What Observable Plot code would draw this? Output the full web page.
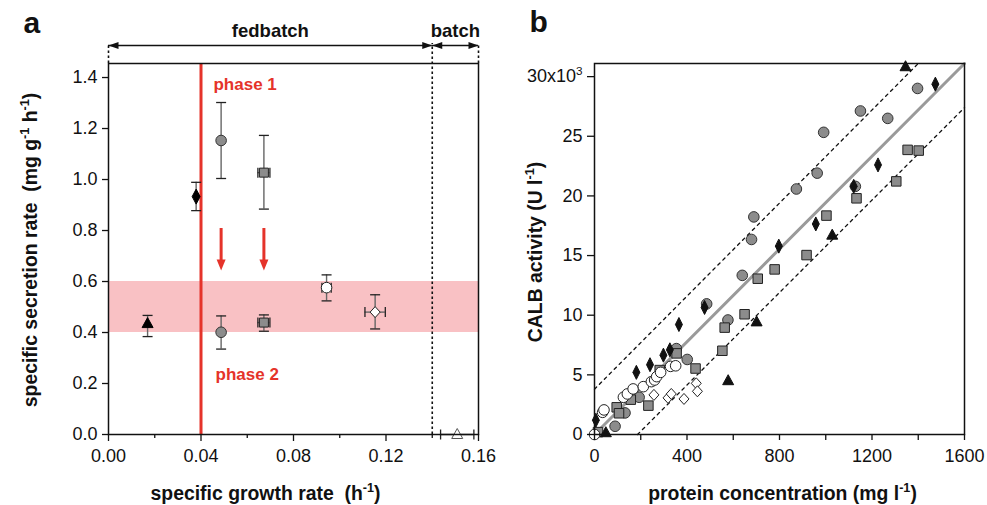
<!DOCTYPE html>
<html><head><meta charset="utf-8">
<script src="https://cdn.jsdelivr.net/npm/d3@7"></script>
<script src="https://cdn.jsdelivr.net/npm/@observablehq/plot@0.6"></script>
<style>
body{margin:0;background:#fff;}
#wrap{display:flex;width:987px;height:505px;overflow:hidden;}
</style></head><body><div id="wrap"></div>
<script>
// ---------- Panel a data ----------
const seriesA = ["tri", "dia", "circ", "sq", "circ", "sq", "ocirc", "odia", "otri"];
const muA     = [0.0169, 0.0379, 0.0487, 0.0672, 0.0487, 0.0672, 0.0943, 0.1153, 0.1508];
const qpA     = [0.435, 0.933, 1.153, 1.027, 0.401, 0.439, 0.576, 0.480, 0.000];
const qpLoA   = [0.384, 0.878, 1.004, 0.884, 0.335, 0.405, 0.524, 0.414, null];
const qpHiA   = [0.467, 0.989, 1.302, 1.173, 0.465, 0.469, 0.626, 0.548, null];
const muLoA   = [null, null, null, 0.0646, null, 0.0646, 0.0923, 0.1109, 0.1436];
const muHiA   = [null, null, null, 0.0698, null, 0.0698, 0.0963, 0.1197, 0.1580];
const bandA = [0.4, 0.6];
const phaseMu = 0.04;
const phaseBounds = [0, 0.14, 0.16];
const phaseNames = ["fedbatch", "batch"];
const dropX = [0.0487, 0.0672];
const dropFrom = 0.808, dropTo = 0.643;
const xTicksA = [0, 0.04, 0.08, 0.12, 0.16];
const xMinorA = [0.02, 0.06, 0.10, 0.14];
const yTicksA = [0, 0.2, 0.4, 0.6, 0.8, 1.0, 1.2, 1.4];

// ---------- Panel b data ----------
const grayCircX = [89, 132, 193, 354, 401, 485, 577, 639, 679, 689, 873, 963, 991, 1128, 1150, 1268, 1397];
const grayCircY = [690, 1810, 3120, 7200, 6290, 10950, 9600, 13340, 16350, 18240, 20580, 21910, 25330, 20800, 27120, 26500, 29010];
const graySqX = [15, 96, 106, 157, 233, 282, 355, 437, 553, 563, 649, 706, 779, 917, 1003, 1133, 1305, 1354, 1402];
const graySqY = [200, 2280, 1780, 2920, 2420, 5400, 6800, 5530, 7020, 8960, 10080, 13060, 13840, 15040, 18350, 19800, 21220, 23860, 23800];
const blkDiaX = [6, 181, 240, 298, 326, 365, 476, 797, 957, 1121, 1226, 1474];
const blkDiaY = [1200, 5210, 5850, 6650, 7100, 9220, 10650, 15790, 17650, 20800, 22600, 29370];
const blkTriX = [49, 578, 701, 1028, 1345];
const blkTriY = [150, 4510, 9440, 16710, 30830];
const openCircX = [0, 35, 41, 125, 142, 167, 211, 246, 260, 269, 286, 329, 351];
const openCircY = [0, 1860, 2060, 3120, 3400, 3820, 4010, 4430, 4570, 4850, 5210, 5710, 5760];
const openDiaX = [257, 318, 332, 387, 440, 445];
const openDiaY = [3320, 3070, 3400, 2980, 4290, 3620];
const fitX = [0, 1600], fitY = [0, 31100];
const upperX = [0, 1400], upperY = [3800, 31100];
const lowerX = [186, 1600], lowerY = [0, 27400];
const xTicksB = [0, 400, 800, 1200, 1600];
const xMinorB = [200, 600, 1000, 1400];
const yTicksB = [0, 5000, 10000, 15000, 20000, 25000, 30000];

// ---------- helpers ----------
const FONT = "'Liberation Sans', Arial, Helvetica, sans-serif";
const RED = "#e5332a";
const GRAY = "#8c8c8c";
const sym = {
  circle: R => ({draw(c){ c.moveTo(R,0); c.arc(0,0,R,0,2*Math.PI); }}),
  square: S => ({draw(c){ c.rect(-S/2,-S/2,S,S); }}),
  triangle: (W,H) => ({draw(c){ c.moveTo(0,-H*0.6); c.lineTo(W/2,H*0.4); c.lineTo(-W/2,H*0.4); c.closePath(); }}),
  diamond: (W,H) => ({draw(c){ c.moveTo(0,-H/2); c.lineTo(W/2,0); c.lineTo(0,H/2); c.lineTo(-W/2,0); c.closePath(); }}),
  hcap: W => ({draw(c){ c.moveTo(-W/2,0); c.lineTo(W/2,0); }}),
  vcap: H => ({draw(c){ c.moveTo(0,-H/2); c.lineTo(0,H/2); }}),
  head: (L,W) => ({draw(c){ c.moveTo(0,0); c.lineTo(-L,-W/2); c.lineTo(-L,W/2); c.closePath(); }})
};
const zip = (X, Y) => X.map((x, i) => ({x, y: Y[i]}));

function supify(svg) {
  svg.querySelectorAll("text").forEach(el => {
    const tsp = el.querySelectorAll("tspan");
    const targets = tsp.length ? Array.from(tsp) : [el];
    for (const t of targets) {
      const s = t.textContent;
      if (!s.includes("^{")) continue;
      const fs = parseFloat(getComputedStyle(t).fontSize) || 16;
      t.textContent = "";
      const parts = s.split(/(\^\{[^}]*\})/);
      let up = false;
      for (const p of parts) {
        if (!p) continue;
        const m = p.match(/^\^\{([^}]*)\}$/);
        const ts = document.createElementNS("http://www.w3.org/2000/svg", "tspan");
        if (m) {
          ts.textContent = m[1];
          ts.setAttribute("dy", (-0.42 * fs).toFixed(2));
          ts.setAttribute("font-size", (0.65 * fs).toFixed(2));
          up = true;
        } else {
          ts.textContent = p;
          if (up) { ts.setAttribute("dy", (0.42 * fs).toFixed(2)); up = false; }
        }
        t.appendChild(ts);
      }
    }
  });
}

// ---------- Panel a ----------
const dataA = seriesA.map((s, i) => ({s, mu: muA[i], q: qpA[i], qLo: qpLoA[i], qHi: qpHiA[i], muLo: muLoA[i], muHi: muHiA[i]}));
const yMaxA = 1.455;
const pxA = 371 / yMaxA;               // pixels per unit on the y scale
const yArrowA = yMaxA + 18 / pxA;      // arrow row above the frame
const yDotTopA = yMaxA + 20 / pxA;
const stylesA = {
  tri:  {symbol: sym.triangle(11, 10), fill: "black", stroke: "black"},
  dia:  {symbol: sym.diamond(8, 15), fill: "black", stroke: "black"},
  circ: {symbol: sym.circle(5.3), fill: GRAY, stroke: "#333"},
  sq:   {symbol: sym.square(9), fill: GRAY, stroke: "#222"},
  ocirc:{symbol: sym.circle(5.3), fill: "white", stroke: "#222"},
  odia: {symbol: sym.diamond(10, 11), fill: "white", stroke: "#222"},
  otri: {symbol: sym.triangle(11, 10), fill: "white", stroke: "#555"}
};
const phases = phaseNames.map((n, i) => ({n, x1: phaseBounds[i], x2: phaseBounds[i + 1], xm: (phaseBounds[i] + phaseBounds[i + 1]) / 2}));
const heads = [
  {x: phaseBounds[0], r: 180}, {x: phaseBounds[1], r: 0},
  {x: phaseBounds[1], r: 180}, {x: phaseBounds[2], r: 0}
];
const vErr = dataA.filter(d => d.qLo != null);
const hErr = dataA.filter(d => d.muLo != null);

const figA = Plot.plot({
  width: 500, height: 505,
  marginLeft: 108, marginRight: 22, marginTop: 63, marginBottom: 71,
  x: {domain: [0, 0.16], label: null},
  y: {domain: [0, yMaxA], label: null},
  style: {fontFamily: FONT, fontSize: "18px", color: "#111", background: "white", overflow: "visible"},
  marks: [
    Plot.rect([{y1: bandA[0], y2: bandA[1]}], {x1: () => 0, x2: () => 0.16, y1: "y1", y2: "y2", fill: "#f9c1c4"}),
    Plot.ruleX([phaseBounds[0], phaseBounds[2]], {x: d => d, y1: yMaxA, y2: yDotTopA, stroke: "#111", strokeWidth: 1.6, strokeDasharray: "2.5,2.5"}),
    Plot.ruleX([phaseBounds[1]], {x: d => d, y1: 0, y2: yDotTopA, stroke: "#111", strokeWidth: 1.6, strokeDasharray: "2.5,2.5"}),
    Plot.ruleY(phases, {x1: "x1", x2: "x2", y: () => yArrowA, stroke: "#111", strokeWidth: 1.5}),
    Plot.dot(heads, {x: "x", y: () => yArrowA, rotate: "r", symbol: sym.head(10, 7), fill: "#111", stroke: "none"}),
    Plot.text(phases, {x: "xm", frameAnchor: "top", lineAnchor: "middle", dy: -32, text: "n", fontWeight: "bold", fontSize: 18.5}),
    Plot.ruleX([phaseMu], {x: d => d, stroke: RED, strokeWidth: 3}),
    Plot.ruleX(dropX, {x: d => d, y1: () => dropFrom, y2: () => dropTo + 6 / pxA, stroke: RED, strokeWidth: 3}),
    Plot.dot(dropX, {x: d => d, y: () => dropTo, rotate: 90, symbol: sym.head(11, 9), fill: RED, stroke: "none"}),
    Plot.text(["phase 1"], {x: () => 0.0454, y: () => 1.373, textAnchor: "start", fill: RED, fontWeight: "bold", fontSize: 17}),
    Plot.text(["phase 2"], {x: () => 0.0463, y: () => 0.235, textAnchor: "start", fill: RED, fontWeight: "bold", fontSize: 17}),
    Plot.ruleX(vErr, {x: "mu", y1: "qLo", y2: "qHi", stroke: "#666", strokeWidth: 1.4}),
    Plot.ruleY(hErr, {y: "q", x1: "muLo", x2: "muHi", stroke: "#666", strokeWidth: 1.4}),
    Plot.dot(vErr, {x: "mu", y: "qLo", symbol: sym.hcap(10), stroke: "#222", strokeWidth: 1.3}),
    Plot.dot(vErr, {x: "mu", y: "qHi", symbol: sym.hcap(10), stroke: "#222", strokeWidth: 1.3}),
    Plot.dot(hErr, {x: "muLo", y: "q", symbol: sym.vcap(10), stroke: "#222", strokeWidth: 1.3}),
    Plot.dot(hErr, {x: "muHi", y: "q", symbol: sym.vcap(10), stroke: "#222", strokeWidth: 1.3}),
    ...Object.keys(stylesA).map(k => Plot.dot(dataA.filter(d => d.s === k), {x: "mu", y: "q", strokeWidth: 1, ...stylesA[k]})),
    Plot.frame({stroke: "#111", strokeWidth: 1.5}),
    Plot.axisX({ticks: xTicksA, tickFormat: d3.format(".2f"), tickSize: 7, tickPadding: 8, label: null, strokeWidth: 1.3}),
    Plot.axisX({ticks: xMinorA, tickFormat: () => "", tickSize: 4, label: null, strokeWidth: 1.3}),
    Plot.axisY({ticks: yTicksA, tickFormat: d3.format(".1f"), tickSize: 6, tickPadding: 5, label: null, strokeWidth: 1.3}),
    Plot.text(["specific growth rate  (h^{-1})"], {frameAnchor: "bottom", textAnchor: "middle", lineAnchor: "middle", dx: -28, dy: 59, fontWeight: "bold", fontSize: 19.4}),
    Plot.text(["specific secretion rate  (mg g^{-1} h^{-1})"], {frameAnchor: "left", textAnchor: "middle", lineAnchor: "middle", dx: -78, dy: 1, rotate: -90, fontWeight: "bold", fontSize: 19.4}),
    Plot.text(["a"], {frameAnchor: "top-left", textAnchor: "start", lineAnchor: "middle", dx: -85, dy: -40, fontWeight: "bold", fontSize: 30})
  ]
});

// ---------- Panel b ----------
const figB = Plot.plot({
  width: 487, height: 505,
  marginLeft: 94, marginRight: 23, marginTop: 63, marginBottom: 71,
  x: {domain: [0, 1600], label: null},
  y: {domain: [0, 31100], label: null},
  style: {fontFamily: FONT, fontSize: "18px", color: "#111", background: "white", overflow: "visible"},
  marks: [
    Plot.line(zip(upperX, upperY), {x: "x", y: "y", stroke: "#111", strokeWidth: 1.3, strokeDasharray: "3,4"}),
    Plot.line(zip(lowerX, lowerY), {x: "x", y: "y", stroke: "#111", strokeWidth: 1.3, strokeDasharray: "3,4"}),
    Plot.line(zip(fitX, fitY), {x: "x", y: "y", stroke: "#9a9a9a", strokeWidth: 3}),
    Plot.dot(zip(grayCircX, grayCircY), {x: "x", y: "y", symbol: sym.circle(5.3), fill: GRAY, stroke: "#333", strokeWidth: 1}),
    Plot.dot(zip(graySqX, graySqY), {x: "x", y: "y", symbol: sym.square(9.5), fill: GRAY, stroke: "#222", strokeWidth: 1}),
    Plot.dot(zip(blkDiaX, blkDiaY), {x: "x", y: "y", symbol: sym.diamond(7, 14), fill: "#111", stroke: "#111", strokeWidth: 1}),
    Plot.dot(zip(blkTriX, blkTriY), {x: "x", y: "y", symbol: sym.triangle(11, 10), fill: "#111", stroke: "#111", strokeWidth: 1}),
    Plot.dot(zip(openDiaX, openDiaY), {x: "x", y: "y", symbol: sym.diamond(10, 11), fill: "white", stroke: "#222", strokeWidth: 1}),
    Plot.dot(zip(openCircX, openCircY), {x: "x", y: "y", symbol: sym.circle(5.3), fill: "white", stroke: "#222", strokeWidth: 1}),
    Plot.frame({stroke: "#111", strokeWidth: 1.5}),
    Plot.axisX({ticks: xTicksB, tickFormat: d => String(d), tickSize: 6, tickPadding: 9, label: null, strokeWidth: 1.3}),
    Plot.axisX({ticks: xMinorB, tickFormat: () => "", tickSize: 6, label: null, strokeWidth: 1.3}),
    Plot.axisY({ticks: yTicksB, tickFormat: d => d === 30000 ? "30x10^{3}" : String(d / 1000), tickSize: 7, tickPadding: 5, label: null, strokeWidth: 1.3}),
    Plot.text(["protein concentration (mg l^{-1})"], {frameAnchor: "bottom", textAnchor: "middle", lineAnchor: "middle", dx: 3, dy: 59, fontWeight: "bold", fontSize: 19.4}),
    Plot.text(["CALB activity (U l^{-1})"], {frameAnchor: "left", textAnchor: "middle", lineAnchor: "middle", dx: -59, dy: 3, rotate: -90, fontWeight: "bold", fontSize: 19.4}),
    Plot.text(["b"], {frameAnchor: "top-left", textAnchor: "start", lineAnchor: "middle", dx: -65, dy: -41, fontWeight: "bold", fontSize: 30})
  ]
});

const wrap = document.getElementById("wrap");
wrap.appendChild(figA);
wrap.appendChild(figB);
supify(figA);
supify(figB);
</script></body></html>
